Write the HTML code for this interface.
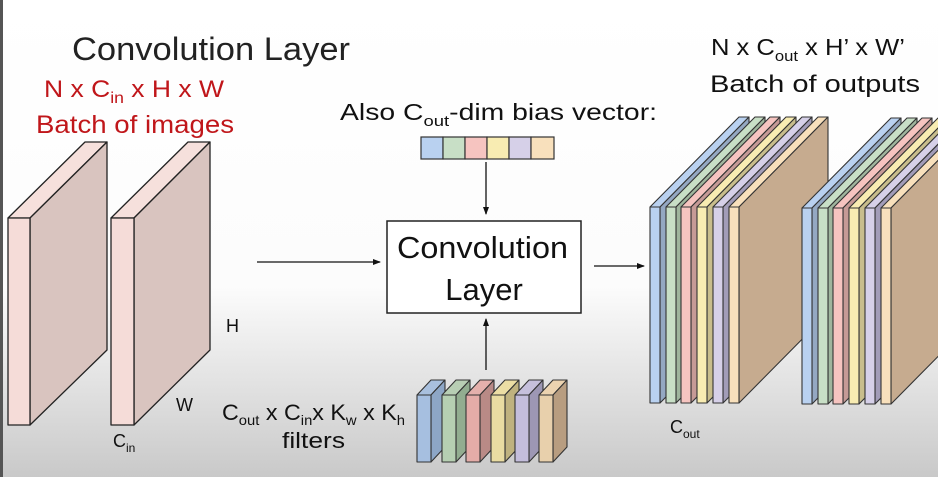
<!DOCTYPE html>
<html><head><style>
html,body{margin:0;padding:0;width:938px;height:477px;overflow:hidden}
svg{display:block}
text{font-family:"Liberation Sans","DejaVu Sans",sans-serif}
</style></head><body>
<svg width="938" height="477" viewBox="0 0 938 477" xmlns="http://www.w3.org/2000/svg">
<defs>
<linearGradient id="bg" x1="0" y1="0" x2="0" y2="1">
<stop offset="0" stop-color="#ffffff"/><stop offset="0.6" stop-color="#fcfcfc"/><stop offset="1" stop-color="#c9c9c9"/>
</linearGradient>
<marker id="ah" markerWidth="8" markerHeight="8" refX="7" refY="4" orient="auto" markerUnits="userSpaceOnUse">
<path d="M0,1 L8,4 L0,7 z" fill="#111"/></marker>
</defs>
<rect width="938" height="477" fill="url(#bg)"/>
<rect x="0" y="0" width="3" height="477" fill="#555"/>

<text x="72" y="60" font-size="32" fill="#222" textLength="278" lengthAdjust="spacingAndGlyphs">Convolution Layer</text>
<text x="44" y="97" font-size="24" fill="#c0161a" textLength="180" lengthAdjust="spacingAndGlyphs">N x C<tspan font-size="16" dy="6">in</tspan><tspan dy="-6"> x H x W</tspan></text>
<text x="36" y="133" font-size="25" fill="#c0161a" textLength="198" lengthAdjust="spacingAndGlyphs">Batch of images</text>
<text x="340" y="120" font-size="23" fill="#111" textLength="317" lengthAdjust="spacingAndGlyphs">Also C<tspan font-size="15" dy="6">out</tspan><tspan dy="-6">-dim bias vector:</tspan></text>
<text x="711" y="55" font-size="23" fill="#111" textLength="194" lengthAdjust="spacingAndGlyphs">N x C<tspan font-size="15" dy="6">out</tspan><tspan dy="-6"> x H’ x W’</tspan></text>
<text x="710" y="92" font-size="24" fill="#111" textLength="210" lengthAdjust="spacingAndGlyphs">Batch of outputs</text>
<text x="222" y="420" font-size="22" fill="#111" textLength="183" lengthAdjust="spacingAndGlyphs">C<tspan font-size="14" dy="5">out</tspan><tspan dy="-5"> x C</tspan><tspan font-size="14" dy="5">in</tspan><tspan dy="-5">x K</tspan><tspan font-size="14" dy="5">w</tspan><tspan dy="-5"> x K</tspan><tspan font-size="14" dy="5">h</tspan></text>
<text x="282" y="448" font-size="22" fill="#111" textLength="63" lengthAdjust="spacingAndGlyphs">filters</text>
<text x="226" y="332" font-size="18" fill="#111">H</text>
<text x="176" y="411" font-size="18" fill="#111">W</text>
<text x="113" y="447" font-size="18" fill="#111">C<tspan font-size="12" dy="5">in</tspan></text>
<text x="670" y="433" font-size="18" fill="#111">C<tspan font-size="12" dy="5">out</tspan></text>

<!-- input slabs -->
<g stroke="#222" stroke-width="1.3" stroke-linejoin="round">
<polygon points="8,218 85,142 107,142 30,218" fill="#f6e0dc"/>
<polygon points="30,218 107,142 107,350 30,425" fill="#d9c4bf"/>
<rect x="8" y="218" width="22" height="207" fill="#f5dcd8"/>
<polygon points="111,218 188,142 210,142 134,218" fill="#f6e0dc"/>
<polygon points="134,218 210,142 210,350 134,425" fill="#d9c4bf"/>
<rect x="111" y="218" width="23" height="207" fill="#f5dcd8"/>
</g>

<!-- arrows -->
<g stroke="#111" stroke-width="1.3">
<line x1="257" y1="262" x2="380" y2="262" marker-end="url(#ah)"/>
<line x1="594" y1="266" x2="644" y2="266" marker-end="url(#ah)"/>
<line x1="486" y1="162" x2="486" y2="214" marker-end="url(#ah)"/>
<line x1="486" y1="370" x2="486" y2="319" marker-end="url(#ah)"/>
</g>

<!-- conv box -->
<rect x="387" y="221" width="194" height="92" fill="#fff" stroke="#222" stroke-width="1.5"/>
<text x="397" y="258" font-size="31" fill="#111" textLength="171" lengthAdjust="spacingAndGlyphs">Convolution</text>
<text x="484" y="300" font-size="31" fill="#111" text-anchor="middle">Layer</text>

<!-- bias vector -->
<g stroke="#333" stroke-width="1.2">
<rect x="421" y="137" width="22" height="22" fill="#b9d1f0"/>
<rect x="443" y="137" width="22" height="22" fill="#c8dfc6"/>
<rect x="465" y="137" width="22" height="22" fill="#f6c4c0"/>
<rect x="487" y="137" width="22" height="22" fill="#f8ecb2"/>
<rect x="509" y="137" width="22" height="22" fill="#d6d0e8"/>
<rect x="531" y="137" width="23" height="22" fill="#f8e0bc"/>
</g>

<!-- filters -->
<g stroke="#333" stroke-width="1.1" stroke-linejoin="round">
<polygon points="417,395 431,380 445,380 431,395" fill="#a9c0de"/><polygon points="431,395 445,380 445,447 431,462" fill="#8da6c6"/><rect x="417" y="395" width="14" height="67" fill="#a6bfe0"/>
<polygon points="442,395 456,380 470,380 456,395" fill="#b8ceb4"/><polygon points="456,395 470,380 470,447 456,462" fill="#92ad90"/><rect x="442" y="395" width="14" height="67" fill="#b6cfb2"/>
<polygon points="466,395 480,380 494,380 480,395" fill="#e4b0ac"/><polygon points="480,395 494,380 494,447 480,462" fill="#b98a86"/><rect x="466" y="395" width="14" height="67" fill="#e4aca8"/>
<polygon points="491,395 505,380 519,380 505,395" fill="#ecdea4"/><polygon points="505,395 519,380 519,447 505,462" fill="#bfb27f"/><rect x="491" y="395" width="14" height="67" fill="#e9dca2"/>
<polygon points="515,395 529,380 543,380 529,395" fill="#c6c0dc"/><polygon points="529,395 543,380 543,447 529,462" fill="#9d97b4"/><rect x="515" y="395" width="14" height="67" fill="#c4bedc"/>
<polygon points="539,395 553,380 567,380 553,395" fill="#ecd3b0"/><polygon points="553,395 567,380 567,447 553,462" fill="#b89d80"/><rect x="539" y="395" width="14" height="67" fill="#e8d0ac"/>
</g>

<!-- output stacks -->
<g stroke="#333" stroke-width="1.1" stroke-linejoin="round">
<polygon points="650,207 739,117 749,117 660,207" fill="#b9d1f0"/><polygon points="660,207 749,117 749,313 660,403" fill="#94a8c2"/><rect x="650" y="207" width="10" height="196" fill="#b9d1f0"/>
<polygon points="666,207 755,117 765,117 676,207" fill="#c8dfc6"/><polygon points="676,207 765,117 765,313 676,403" fill="#9fb59d"/><rect x="666" y="207" width="10" height="196" fill="#c8dfc6"/>
<polygon points="681,207 770,117 780,117 691,207" fill="#f6c4c0"/><polygon points="691,207 780,117 780,313 691,403" fill="#c69a96"/><rect x="681" y="207" width="10" height="196" fill="#f6c4c0"/>
<polygon points="697,207 786,117 796,117 707,207" fill="#f8ecb2"/><polygon points="707,207 796,117 796,313 707,403" fill="#c8bd8c"/><rect x="697" y="207" width="10" height="196" fill="#f8ecb2"/>
<polygon points="713,207 802,117 812,117 723,207" fill="#d6d0e8"/><polygon points="723,207 812,117 812,313 723,403" fill="#a29cb8"/><rect x="713" y="207" width="10" height="196" fill="#d6d0e8"/>
<polygon points="729,207 818,117 828,117 739,207" fill="#f8e0bc"/><polygon points="739,207 828,117 828,313 739,403" fill="#c6ab8f"/><rect x="729" y="207" width="10" height="196" fill="#f8e0bc"/>
<polygon points="802,208 891,118 901,118 812,208" fill="#b9d1f0"/><polygon points="812,208 901,118 901,314 812,404" fill="#94a8c2"/><rect x="802" y="208" width="10" height="196" fill="#b9d1f0"/>
<polygon points="818,208 907,118 917,118 828,208" fill="#c8dfc6"/><polygon points="828,208 917,118 917,314 828,404" fill="#9fb59d"/><rect x="818" y="208" width="10" height="196" fill="#c8dfc6"/>
<polygon points="833,208 922,118 932,118 843,208" fill="#f6c4c0"/><polygon points="843,208 932,118 932,314 843,404" fill="#c69a96"/><rect x="833" y="208" width="10" height="196" fill="#f6c4c0"/>
<polygon points="849,208 938,118 948,118 859,208" fill="#f8ecb2"/><polygon points="859,208 948,118 948,314 859,404" fill="#c8bd8c"/><rect x="849" y="208" width="10" height="196" fill="#f8ecb2"/>
<polygon points="865,208 954,118 964,118 875,208" fill="#d6d0e8"/><polygon points="875,208 964,118 964,314 875,404" fill="#a29cb8"/><rect x="865" y="208" width="10" height="196" fill="#d6d0e8"/>
<polygon points="881,208 970,118 980,118 891,208" fill="#f8e0bc"/><polygon points="891,208 980,118 980,314 891,404" fill="#c6ab8f"/><rect x="881" y="208" width="10" height="196" fill="#f8e0bc"/>
</g>
</svg>
</body></html>
